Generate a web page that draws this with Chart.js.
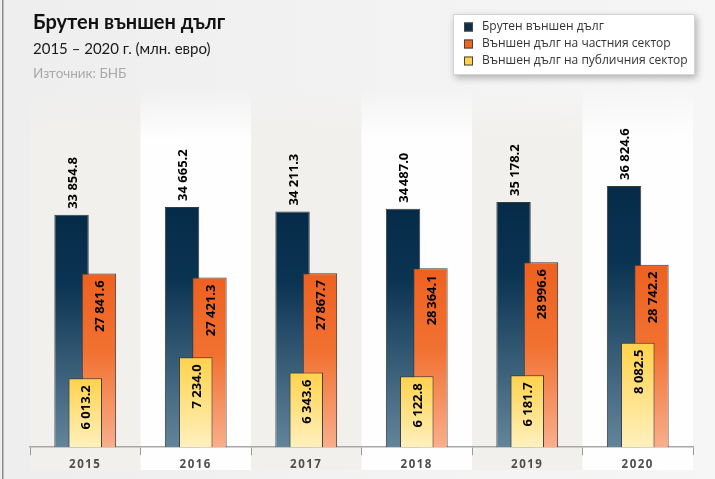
<!DOCTYPE html>
<html><head><meta charset="utf-8">
<script src="https://cdn.jsdelivr.net/npm/chart.js@4/dist/chart.umd.min.js"></script>
<style>html,body{margin:0;padding:0;background:#f2f2f2;}#wrap{width:715px;height:479px;position:relative;}canvas{display:block;}</style>
</head><body><div id="wrap"><canvas id="c" width="715" height="479"></canvas></div>
<script>
const categories = ['2015', '2016', '2017', '2018', '2019', '2020'];
const grossDebt = [33854.8, 34665.2, 34211.3, 34487.0, 35178.2, 36824.6];
const privateDebt = [27841.6, 27421.3, 27867.7, 28364.1, 28996.6, 28742.2];
const publicDebt = [6013.2, 7234.0, 6343.6, 6122.8, 6181.7, 8082.5];
const grossLabels = ['33 854.8', '34 665.2', '34 211.3', '34\u202F487.0', '35 178.2', '36 824.6'];
const privateLabels = ['27 841.6', '27 421.3', '27\u202F867.7', '28\u202F364.1', '28\u202F996.6', '28 742.2'];
const publicLabels = ['6 013.2', '7 234.0', '6 343.6', '6 122.8', '6 181.7', '8 082.5'];
const seriesNames = ['Брутен външен дълг', 'Външен дълг на частния сектор', 'Външен дълг на публичния сектор'];
const titleText = 'Брутен външен дълг';
const subtitleText = '2015 – 2020 г. (млн. евро)';
const sourceText = 'Източник: БНБ';
const leftAxisRange = [10000, 40000];
const rightAxisRange = [2000, 19000];

const darkStops = [[0, '#052b48'], [0.3, '#0b3452'], [1, '#63859b']];
const orangeStops = [[0, '#ee6120'], [0.45, '#f17131'], [1, '#f9ae8b']];
const yellowStops = [[0, '#ffd24c'], [1, '#fff1be']];
const markerColors = ['#0b2f4c', '#f0651f', '#ffd24c'];

function barGradient(stops) {
  return function (c) {
    if (c.type !== 'data') return stops[0][1];
    const chart = c.chart;
    const ys = chart.scales[c.dataset.yAxisID];
    if (!ys || !chart.chartArea) return stops[0][1];
    const top = ys.getPixelForValue(c.raw);
    const bot = ys.getPixelForValue(ys.min);
    if (!isFinite(top) || !isFinite(bot) || Math.abs(bot - top) < 1) return stops[0][1];
    const g = chart.ctx.createLinearGradient(0, top, 0, bot);
    stops.forEach(s => g.addColorStop(s[0], s[1]));
    return g;
  };
}

// dataset indices: 0 = gross (dark), 1 = public (yellow, middle), 2 = private (orange)
const drawSequence = [0, 2, 1];

const backgroundPlugin = {
  id: 'bgBands',
  beforeDraw(chart) {
    const ctx = chart.ctx;
    const W = chart.width, H = chart.height;
    ctx.save();
    const bg = ctx.createLinearGradient(0, 0, W, 0);
    bg.addColorStop(0, '#eeeeee');
    bg.addColorStop(1, '#f6f6f6');
    ctx.fillStyle = bg;
    ctx.fillRect(0, 0, W, H);
    const xs = chart.scales.x;
    const n = categories.length;
    const w = (xs.right - xs.left) / n;
    for (let i = 0; i < n; i++) {
      const x0 = xs.left + i * w;
      const col = i % 2 === 0 ? [241, 240, 236] : [254, 254, 254];
      const g = ctx.createLinearGradient(0, 88, 0, 140);
      g.addColorStop(0, `rgba(${col[0]},${col[1]},${col[2]},0)`);
      g.addColorStop(1, `rgba(${col[0]},${col[1]},${col[2]},1)`);
      ctx.fillStyle = g;
      ctx.fillRect(x0, 88, w, 52);
      ctx.fillStyle = `rgb(${col[0]},${col[1]},${col[2]})`;
      ctx.fillRect(x0, 140, w, 330);
    }
    ctx.fillStyle = '#8a8a8a';
    ctx.fillRect(2, 0, 1.5, H);
    ctx.restore();
    ctx.letterSpacing = '1.5px';
  },
  beforeDatasetsDraw(chart) {
    const ctx = chart.ctx;
    ctx.letterSpacing = '0px';
    drawSequence.forEach(i => {
      if (chart.isDatasetVisible(i)) chart.getDatasetMeta(i).controller.draw();
    });
    drawValueLabels(chart);
    return false;
  },
  afterDraw(chart) {
    drawHeader(chart);
    drawLegend(chart);
  }
};

function drawValueLabels(chart) {
  const ctx = chart.ctx;
  ctx.save();
  ctx.font = 'bold 13px "Open Sans"';
  ctx.fillStyle = '#000';
  ctx.textBaseline = 'middle';
  const sets = [[0, grossLabels, 'out'], [2, privateLabels, 'in'], [1, publicLabels, 'in']];
  sets.forEach(([di, labels, mode]) => {
    const meta = chart.getDatasetMeta(di);
    meta.data.forEach((bar, i) => {
      const p = bar.getProps(['x', 'y'], true);
      ctx.save();
      ctx.translate(p.x + 1.5, p.y);
      ctx.rotate(-Math.PI / 2);
      if (mode === 'out') { ctx.textAlign = 'left'; ctx.fillText(labels[i], 6, 0); }
      else { ctx.textAlign = 'right'; ctx.fillText(labels[i], -7, 0); }
      ctx.restore();
    });
  });
  ctx.restore();
}

function drawHeader(chart) {
  const ctx = chart.ctx;
  ctx.save();
  ctx.textBaseline = 'alphabetic';
  ctx.textAlign = 'left';
  ctx.fillStyle = '#111';
  ctx.font = 'bold 20px Lato';
  ctx.fillText(titleText, 33, 29);
  ctx.font = '15px Lato';
  ctx.fillStyle = '#1a1a1a';
  ctx.fillText(subtitleText, 33, 54);
  ctx.font = '13.5px Lato';
  ctx.fillStyle = '#a9a9a9';
  ctx.fillText(sourceText, 33, 78);
  ctx.restore();
}

function drawLegend(chart) {
  const ctx = chart.ctx;
  ctx.save();
  const bx = 453, by = 14, bw = 242, bh = 61;
  ctx.shadowColor = 'rgba(0,0,0,0.28)';
  ctx.shadowBlur = 7;
  ctx.shadowOffsetX = 2;
  ctx.shadowOffsetY = 3;
  ctx.fillStyle = '#ffffff';
  ctx.fillRect(bx, by, bw, bh);
  ctx.shadowColor = 'transparent';
  ctx.strokeStyle = '#d4d4d4';
  ctx.lineWidth = 1;
  ctx.strokeRect(bx + 0.5, by + 0.5, bw - 1, bh - 1);
  ctx.font = '12px "Open Sans"';
  ctx.textBaseline = 'middle';
  const ys = [27, 44, 61];
  seriesNames.forEach((name, i) => {
    ctx.fillStyle = markerColors[i];
    ctx.fillRect(464, ys[i] - 4.5, 9, 9);
    ctx.strokeStyle = '#444';
    ctx.strokeRect(464.5, ys[i] - 4, 8, 8);
    ctx.fillStyle = '#333';
    ctx.fillText(name, 482, ys[i]);
  });
  ctx.restore();
}

new Chart(document.getElementById('c'), {
  type: 'bar',
  data: {
    labels: categories,
    datasets: [
      { label: seriesNames[0], data: grossDebt, xAxisID: 'x', yAxisID: 'y', base: leftAxisRange[0],
        backgroundColor: barGradient(darkStops), borderColor: '#3a3a3a', borderWidth: 1,
        categoryPercentage: 0.372, barPercentage: 2.51 },
      { label: seriesNames[2], data: publicDebt, xAxisID: 'x', yAxisID: 'y2', base: rightAxisRange[0],
        backgroundColor: barGradient(yellowStops), borderColor: '#3a3a3a', borderWidth: 1,
        categoryPercentage: 0.372, barPercentage: 2.45 },
      { label: seriesNames[1], data: privateDebt, xAxisID: 'x', yAxisID: 'y', base: leftAxisRange[0],
        backgroundColor: barGradient(orangeStops), borderColor: '#3a3a3a', borderWidth: 1,
        categoryPercentage: 0.372, barPercentage: 2.51 }
    ]
  },
  options: {
    responsive: false,
    animation: false,
    devicePixelRatio: 1,
    layout: { padding: { left: 30, right: 22, top: 155, bottom: 4 } },
    plugins: { legend: { display: false }, tooltip: { enabled: false }, title: { display: false } },
    scales: {
      x: {
        type: 'category', labels: categories, offset: true, position: 'bottom',
        grid: { offset: true, drawOnChartArea: false, drawTicks: true, tickLength: 8, color: '#9a9a9a', lineWidth: 1 },
        border: { display: true, color: '#a8a8a8', width: 1.5 },
        ticks: { color: '#4d4d4d', font: { family: 'Open Sans', weight: 'bold', size: 11.5 }, padding: 3, maxRotation: 0 }
      },
      y: { display: false, min: leftAxisRange[0], max: leftAxisRange[1] },
      y2: { display: false, min: rightAxisRange[0], max: rightAxisRange[1], position: 'right' }
    }
  },
  plugins: [backgroundPlugin]
});
</script>
</body></html>
